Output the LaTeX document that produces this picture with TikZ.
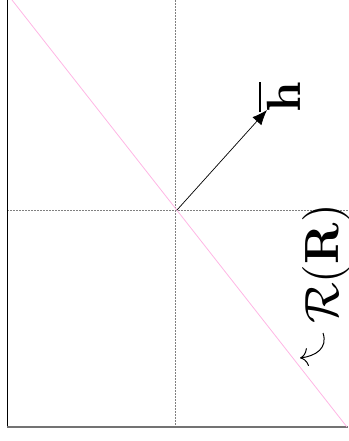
\documentclass[tikz,border=0pt]{standalone}
\usetikzlibrary{arrows.meta}
\begin{document}
\begin{tikzpicture}[x=1pt,y=-1pt,
  guide/.style={draw=gray,line width=0.8pt,dash pattern=on 2pt off 1pt},
  rline/.style={draw=pink!70!magenta!60,line width=0.8pt},
  vec/.style={draw=black,line width=0.7pt,-{Latex[length=15pt,width=12pt]}},
  lbl/.style={rotate=90,scale=4.8,inner sep=0pt}]
\useasboundingbox (0,0) rectangle (348,441);
\coordinate (TL) at (7,0);
\coordinate (BL) at (7,427);
\coordinate (BR) at (348,427);
\coordinate (VT) at (175.5,0);
\coordinate (VB) at (175.5,427);
\coordinate (HL) at (7,210.5);
\coordinate (HR) at (348,210.5);
\coordinate (RT) at (12,0);
\coordinate (RB) at (347,427);
\coordinate (O) at (177,210);
\coordinate (Htip) at (267,110);
\coordinate (CS) at (323,333);
\coordinate (CE) at (300,358);
\draw[guide] (VT) -- (VB);
\draw[guide] (HL) -- (HR);
\draw[black,line width=1pt] (TL) -- (BL);
\draw[gray!90!black,line width=2pt] (BL) -- (BR);
\draw[rline] (RT) -- (RB);
\draw[vec] (O) -- (Htip);
\node[lbl] (hlab) at (279,97) {$\overline{\mathbf{h}}$};
\node[lbl] (rlab) at (326,264) {$\mathcal{R}(\mathbf{R})$};
\draw[black,line width=1pt,-{To[length=8pt,width=18pt]}] (CS) .. controls (328,348) and (316,356) .. (CE);
\end{tikzpicture}
\end{document}
